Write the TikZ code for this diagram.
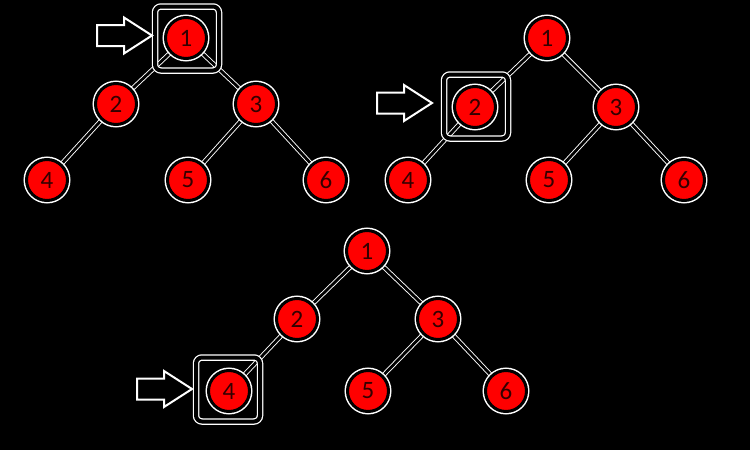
\documentclass[tikz,border=0pt]{standalone}
\usepackage{fontspec}
\setmainfont{Carlito}
\pgfdeclarelayer{back}
\pgfsetlayers{back,main}
\begin{document}
\begin{tikzpicture}[x=1pt,y=-1pt,
  tn/.style={circle, fill=red, draw=black, line width=3pt, minimum size=41pt, inner sep=0pt,
    text=black!80!red, font=\fontsize{25}{25}\selectfont, preaction={draw=white, line width=6pt}},
  edge/.style={draw=black, line width=2.8pt, preaction={draw=white, line width=4.6pt}},
  hbox/.style={rectangle, rounded corners=6pt, draw=black, line width=4pt, minimum size=64pt,
    inner sep=0pt, preaction={draw=white, line width=6.5pt}},
  blockarrow/.pic={\draw[white, line width=2pt, fill=black, line join=miter]
    (0,-10.5) -- (27,-10.5) -- (27,-18) -- (55,0) -- (27,18) -- (27,10.5) -- (0,10.5) -- cycle;}
]
\begin{pgfonlayer}{back}
\fill[black] (0,0) rectangle (750,450);
\end{pgfonlayer}
\useasboundingbox (0,0) rectangle (750,450);

% tree 1
\node[tn] (a1) at (186,38) {1};
\node[tn] (a2) at (116,104) {2};
\node[tn] (a3) at (256,104) {3};
\node[tn] (a4) at (47,180) {4};
\node[tn] (a5) at (188,180) {5};
\node[tn] (a6) at (326,180) {6};

% tree 2
\node[tn] (b1) at (547,38) {1};
\node[tn] (b2) at (475,107) {2};
\node[tn] (b3) at (616,107) {3};
\node[tn] (b4) at (408,180) {4};
\node[tn] (b5) at (549,180) {5};
\node[tn] (b6) at (684,180) {6};

% tree 3
\node[tn] (c1) at (367,251) {1};
\node[tn] (c2) at (297,319) {2};
\node[tn] (c3) at (438,319) {3};
\node[tn] (c4) at (229,391) {4};
\node[tn] (c5) at (368,391) {5};
\node[tn] (c6) at (506,391) {6};

% edges and boxes behind the nodes
\begin{pgfonlayer}{back}
\foreach \t in {a,b,c}{
  \draw[edge] (\t1) -- (\t2);
  \draw[edge] (\t1) -- (\t3);
  \draw[edge] (\t2) -- (\t4);
  \draw[edge] (\t3) -- (\t5);
  \draw[edge] (\t3) -- (\t6);
}
\node[hbox] (box1) at (187,38.5) {};
\node[hbox] (box2) at (476,106.5) {};
\node[hbox] (box3) at (228,389.5) {};
\end{pgfonlayer}

% arrows
\pic (arr1) at (97,35.5) {blockarrow};
\pic (arr2) at (377,103) {blockarrow};
\pic (arr3) at (137,389) {blockarrow};
\end{tikzpicture}
\end{document}
